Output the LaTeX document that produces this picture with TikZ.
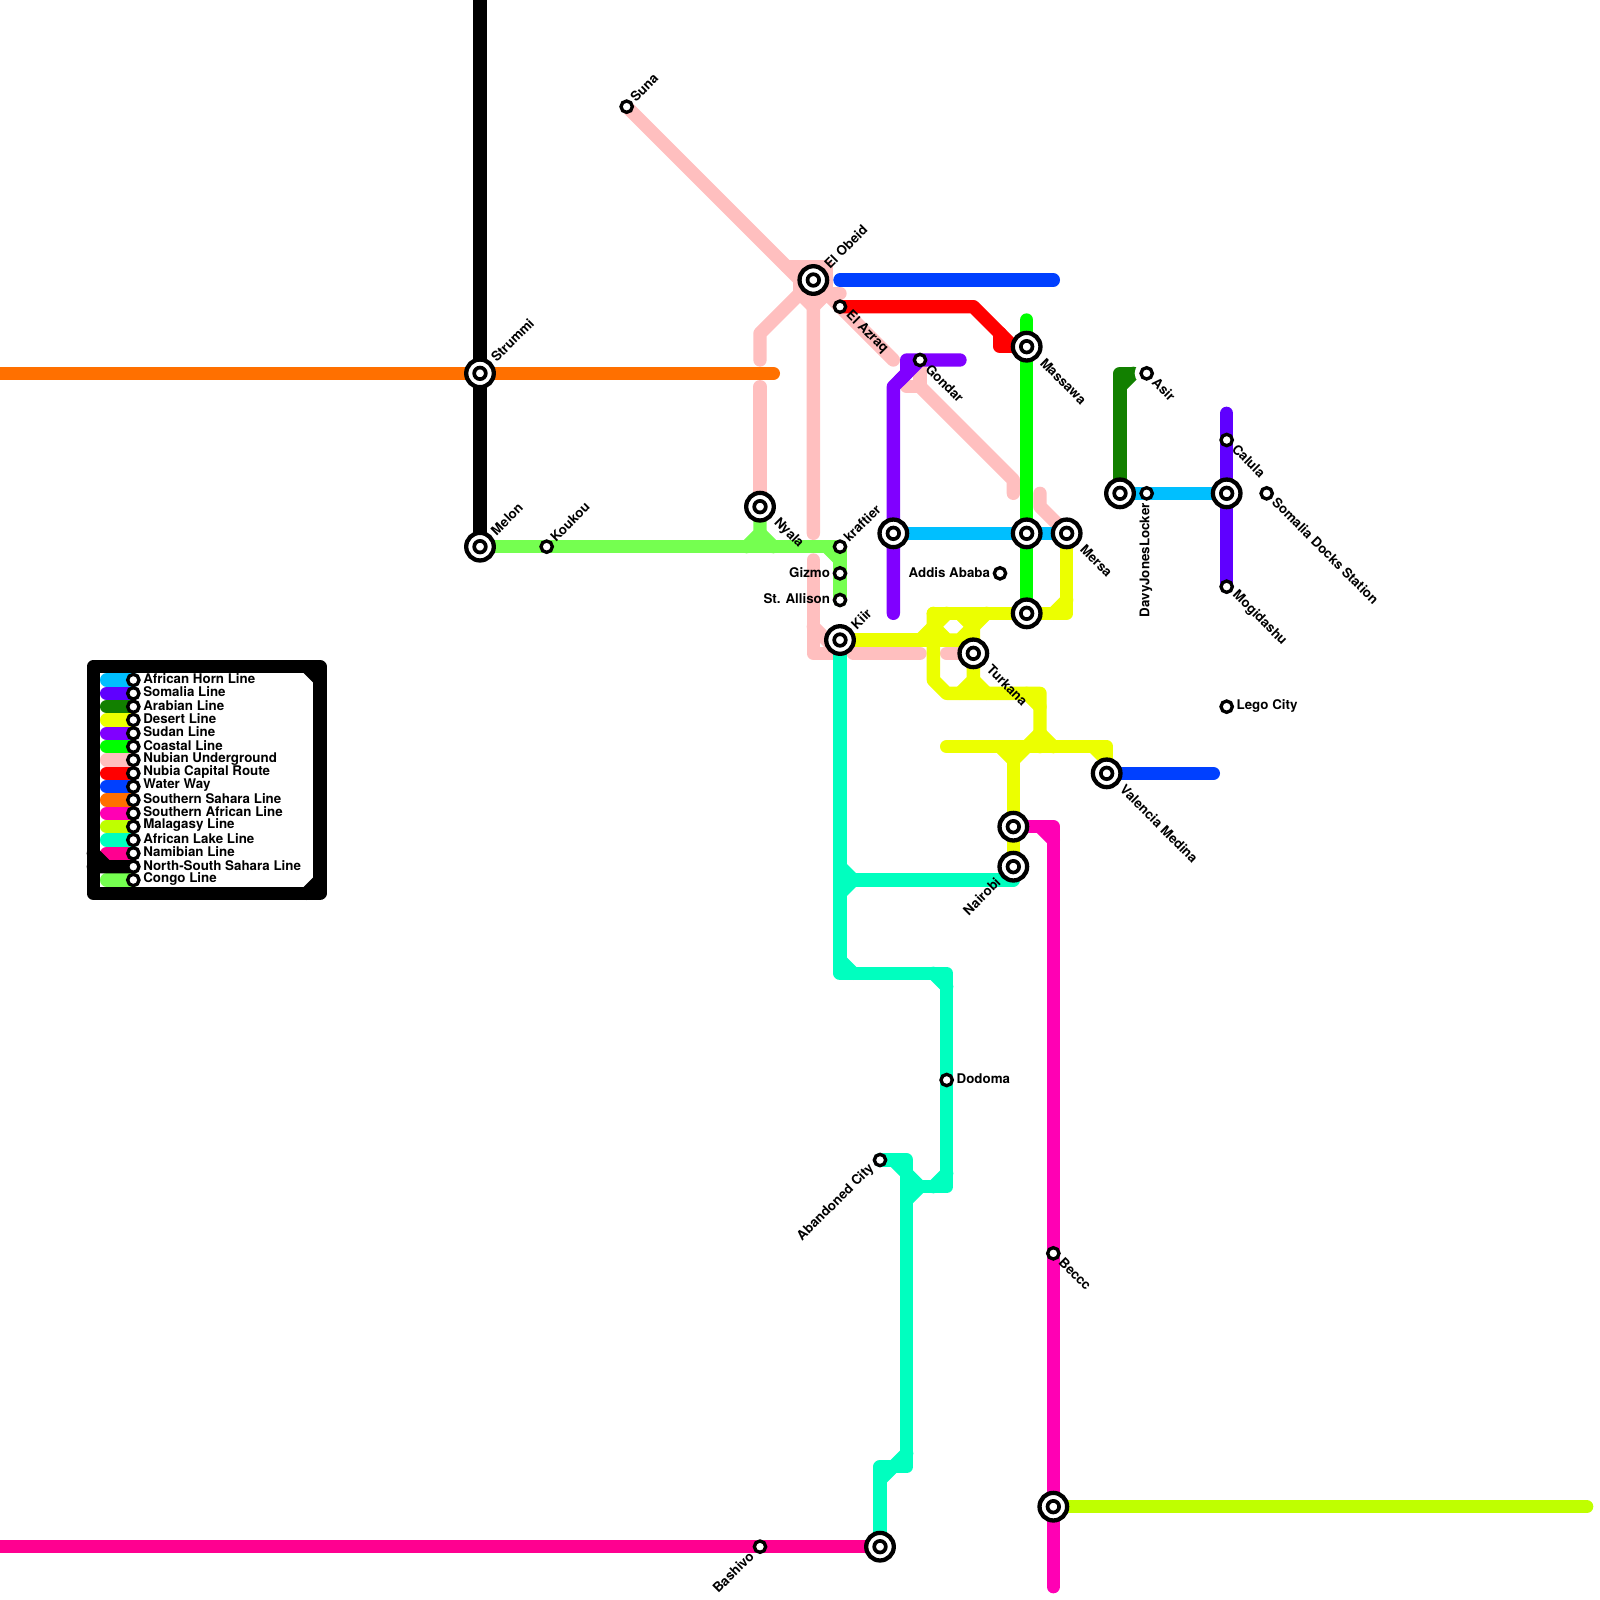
\documentclass[tikz,border=0pt]{standalone}
\usepackage{fontspec}
\setmainfont{TeX Gyre Heros}[BoldFont={TeX Gyre Heros Bold}]
\usetikzlibrary{calc}
\definecolor{chorn}{HTML}{00BFFF}
\definecolor{csomalia}{HTML}{5F00FF}
\definecolor{carabian}{HTML}{128000}
\definecolor{cdesert}{HTML}{ECFF00}
\definecolor{csudan}{HTML}{8000FF}
\definecolor{ccoast}{HTML}{00FF00}
\definecolor{cnubian}{HTML}{FFBFBF}
\definecolor{ccapital}{HTML}{FF0000}
\definecolor{cwater}{HTML}{0040FF}
\definecolor{csahara}{HTML}{FF7000}
\definecolor{csafrican}{HTML}{FF00B4}
\definecolor{cmalagasy}{HTML}{BFFF00}
\definecolor{clake}{HTML}{00FFBF}
\definecolor{cnamibian}{HTML}{FF0090}
\definecolor{ccongo}{HTML}{75FF50}
\tikzset{
  metro/.style={line width=6.667pt,line cap=round,line join=round},
  bigst/.style={circle,draw=black,fill=white,line width=2.15pt,minimum size=13.8pt,inner sep=0pt,outer sep=0pt,
    path picture={\draw[black,line width=1.85pt] (path picture bounding box.center) circle (2.9pt);}},
  smallst/.style={circle,draw=black,fill=white,line width=1.67pt,minimum size=5.67pt,inner sep=0pt,outer sep=0pt},
  lab/.style={font=\fontsize{6.67}{8}\selectfont\bfseries,inner sep=0pt,outer sep=0pt,text=black},
  lr/.style={lab,anchor=west},
  ll/.style={lab,anchor=east},
  lup/.style={lab,anchor=west,rotate=45},
  ldn/.style={lab,anchor=west,rotate=-45},
  lbk/.style={lab,anchor=east,rotate=45},
  lvt/.style={lab,anchor=east,rotate=90},
}
\begin{document}
\begin{tikzpicture}[x=6.6667pt,y=-6.6667pt]
\useasboundingbox (0,0) rectangle (120,120);
% station positions
\coordinate (suna) at (47,8);
\coordinate (elobeid) at (61,21);
\coordinate (elazraq) at (63,23);
\coordinate (gondar) at (69,27);
\coordinate (massawa) at (77,26);
\coordinate (asir) at (86,28);
\coordinate (strummi) at (36,28);
\coordinate (calula) at (92,33);
\coordinate (melon) at (36,41);
\coordinate (koukou) at (41,41);
\coordinate (nyala) at (57,38);
\coordinate (kraftier) at (63,41);
\coordinate (gizmo) at (63,43);
\coordinate (allison) at (63,45);
\coordinate (kiir) at (63,48);
\coordinate (sudanx) at (67,40);
\coordinate (coastx) at (77,40);
\coordinate (mersa) at (80,40);
\coordinate (addis) at (75,43);
\coordinate (coastb) at (77,46);
\coordinate (turkana) at (73,49);
\coordinate (davy) at (86,37);
\coordinate (arabx) at (84,37);
\coordinate (somx) at (92,37);
\coordinate (docks) at (95,37);
\coordinate (mogi) at (92,44);
\coordinate (lego) at (92,53);
\coordinate (valencia) at (83,58);
\coordinate (dodoma) at (71,81);
\coordinate (abandoned) at (66,87);
\coordinate (beccc) at (79,94);
\coordinate (malag) at (79,113);
\coordinate (bashivo) at (57,116);
\coordinate (lakeb) at (66,116);
\coordinate (safr) at (76,62);
\coordinate (nairobi) at (76,65);
\coordinate (nwend) at (36,-1);
\coordinate (sahw) at (-1,28);
\coordinate (sahe) at (58,28);
\coordinate (namw) at (-1,116);
\coordinate (male) at (119,113);
\coordinate (safe) at (79,119);

% Legend
\draw[metro,black] (7,50) rectangle (24,67);
\draw[metro,black] (23,50) -- (24,51) (24,66) -- (23,67);
\foreach \yy/\cc in {51/chorn,52/csomalia,53/carabian,54/cdesert,55/csudan,56/ccoast,57/cnubian,58/ccapital,59/cwater,60/csahara,61/csafrican,62/cmalagasy,63/clake,64/cnamibian,66/ccongo}{
  \draw[metro,\cc] (8,\yy) -- (10,\yy);
}
\draw[metro,black] (7,65) -- (10,65) (7,64) -- (8,65);
\foreach \yy in {51,...,66}{ \node[smallst] at (10,\yy) {}; }
\foreach \yy/\tx in {51/African Horn Line,52/Somalia Line,53/Arabian Line,54/Desert Line,55/Sudan Line,56/Coastal Line,57/Nubian Underground,58/Nubia Capital Route,59/Water Way,60/Southern Sahara Line,61/Southern African Line,62/Malagasy Line,63/African Lake Line,64/Namibian Line,65/North-South Sahara Line,66/Congo Line}{
  \node[lr] at (10.75,\yy-0.1) {\tx};
}

% Nubian Underground
\draw[metro,cnubian] (suna) -- (60,21) -- (elobeid);
\draw[metro,cnubian] (59,20) -- (62,20) -- (62,22) -- (63,22);
\draw[metro,cnubian] (60,20) -- (62,20) -- (62,22) -- (60,22) -- cycle;
\draw[metro,cnubian] (57,27) -- (57,25) -- (elobeid) -- (61,40);
\draw[metro,cnubian] (60,22) -- (61,23) -- (62,22) -- (elazraq) -- (67,27);
\draw[metro,cnubian] (nyala) -- (57,29);
\draw[metro,cnubian] (61,42) -- (61,49) -- (63,49);
\draw[metro,cnubian] (61,47) -- (63,49);
\draw[metro,cnubian] (64,49) -- (69,49);
\draw[metro,cnubian] (71,49) -- (turkana);
\draw[metro,cnubian] (gondar) -- (69,29) -- (68,29);
\draw[metro,cnubian] (69,29) -- (76,36) -- (76,37);
\draw[metro,cnubian] (78,37) -- (78,38) -- (mersa);

% North-South Sahara, Southern Sahara
\draw[metro,black] (nwend) -- (melon);
\draw[metro,csahara] (sahw) -- (sahe);

% Congo
\draw[metro,ccongo] (melon) -- (kraftier) -- (allison);
\draw[metro,ccongo] (62,41) -- (63,42);
\draw[metro,ccongo] (nyala) -- (57,40) -- (56,41);
\draw[metro,ccongo] (57,40) -- (58,41);

% Sudan
\draw[metro,csudan] (67,46) -- (sudanx) -- (67,29) -- (gondar) -- (72,27);
\draw[metro,csudan] (67.5,28.5) -- (68,28) -- (68,27) -- (gondar);

% Water Way
\draw[metro,cwater] (63,21) -- (79,21);
\draw[metro,cwater] (valencia) -- (91,58);

% Capital
\draw[metro,ccapital] (elazraq) -- (73,23) -- (76,26) -- (massawa);
\draw[metro,ccapital] (75,25) -- (75,26) -- (massawa);

% Coastal
\draw[metro,ccoast] (77,24) -- (coastb);

% African Horn
\draw[metro,chorn] (sudanx) -- (mersa);
\draw[metro,chorn] (arabx) -- (somx);

% Somalia
\draw[metro,csomalia] (92,31) -- (mogi);

% Arabian
\draw[metro,carabian] (arabx) -- (84,28) -- (85,28);
\draw[metro,carabian] (84,29) -- (85,28);
\fill[white] (asir) circle (6pt);

% Desert
\fill[cdesert] (70,46) rectangle (73,48);
\draw[metro,cdesert] (kiir) -- (turkana |- kiir);
\draw[metro,cdesert] (69,48) -- (71,46);
\draw[metro,cdesert] (70,46) -- (coastb) -- (80,46) -- (mersa);
\draw[metro,cdesert] (79,46) -- (80,45);
\draw[metro,cdesert] (70,46) -- (70,51) -- (71,52) -- (78,52) -- (78,56);
\draw[metro,cdesert] (77,52) -- (78,53);
\draw[metro,cdesert] (turkana) -- (73,47) -- (74,46);
\draw[metro,cdesert] (turkana) -- (73,51) -- (72,52);
\draw[metro,cdesert] (73,51) -- (74,52);
\draw[metro,cdesert] (71,56) -- (83,56) -- (valencia);
\draw[metro,cdesert] (82,56) -- (83,57);
\draw[metro,cdesert] (77,56) -- (78,55) -- (79,56);
\draw[metro,cdesert] (76,56) -- (nairobi);
\draw[metro,cdesert] (75,56) -- (76,57) -- (77,56);
\fill[white] (70.75,47) -- (71.25,46.5) -- (71.75,46.5) -- (72.25,47) -- (71.75,47.5) -- (71.25,47.5) -- cycle;

% African Lake
\draw[metro,clake] (kiir) -- (63,73) -- (71,73) -- (71,89) -- (68,89);
\draw[metro,clake] (63,66) -- (76,66) -- (nairobi);
\draw[metro,clake] (63,65) -- (64,66) -- (63,67);
\draw[metro,clake] (63,72) -- (64,73);
\draw[metro,clake] (70,73) -- (71,74);
\draw[metro,clake] (abandoned) -- (68,87) -- (68,110) -- (66,110) -- (lakeb);
\draw[metro,clake] (67,87) -- (68,88) -- (69,89) -- (68,90);
\draw[metro,clake] (71,88) -- (70,89);
\draw[metro,clake] (68,109) -- (66,111);

% Southern African, Namibian, Malagasy
\draw[metro,csafrican] (safr) -- (79,62) -- (safe);
\draw[metro,csafrican] (78,62) -- (79,63);
\draw[metro,cnamibian] (namw) -- (lakeb);
\draw[metro,cmalagasy] (malag) -- (male);

% Stations
\foreach \s in {strummi,melon,elobeid,massawa,nyala,kiir,sudanx,coastx,mersa,coastb,turkana,arabx,somx,valencia,safr,nairobi,malag,lakeb}{
  \node[bigst] (st\s) at (\s) {};
}
\foreach \s in {suna,elazraq,gondar,asir,calula,koukou,kraftier,gizmo,allison,addis,davy,docks,mogi,lego,dodoma,abandoned,beccc,bashivo}{
  \node[smallst] (st\s) at (\s) {};
}

% Labels
\node[lup] at ($(suna)+(0.45,-0.55)$) {Suna};
\node[lup] at ($(elobeid)+(1.0,-1.05)$) {El Obeid};
\node[lup] at ($(strummi)+(1.0,-1.05)$) {Strummi};
\node[lup] at ($(melon)+(1.0,-1.05)$) {Melon};
\node[lup] at ($(koukou)+(0.45,-0.55)$) {Koukou};
\node[lup] at ($(kraftier)+(0.45,-0.55)$) {kraftier};
\node[lup] at ($(kiir)+(1.0,-1.0)$) {Kiir};
\node[ldn] at ($(elazraq)+(0.6,0.5)$) {El Azraq};
\node[ldn] at ($(gondar)+(0.6,0.5)$) {Gondar};
\node[ldn] at ($(massawa)+(1.2,1.05)$) {Massawa};
\node[ldn] at ($(nyala)+(1.2,1.05)$) {Nyala};
\node[ldn] at ($(mersa)+(1.2,1.05)$) {Mersa};
\node[ldn] at ($(turkana)+(1.2,1.05)$) {Turkana};
\node[ldn] at ($(valencia)+(1.2,1.05)$) {Valencia Medina};
\node[ldn] at ($(asir)+(0.6,0.5)$) {Asir};
\node[ldn] at ($(calula)+(0.6,0.5)$) {Calula};
\node[ldn] at ($(docks)+(0.6,0.5)$) {Somalia Docks Station};
\node[ldn] at ($(mogi)+(0.6,0.5)$) {Mogidashu};
\node[ldn] at ($(beccc)+(0.6,0.5)$) {Beccc};
\node[lr] at ($(dodoma)+(0.75,-0.1)$) {Dodoma};
\node[lr] at ($(lego)+(0.75,-0.03)$) {Lego City};
\node[ll] at ($(gizmo)+(-0.75,-0.08)$) {Gizmo};
\node[ll] at ($(allison)+(-0.75,-0.08)$) {St. Allison};
\node[ll] at ($(addis)+(-0.75,-0.08)$) {Addis Ababa};
\node[lbk] at ($(nairobi)+(-1.15,1.0)$) {Nairobi};
\node[lbk] at ($(abandoned)+(-0.6,0.5)$) {Abandoned City};
\node[lbk] at ($(bashivo)+(-0.65,0.55)$) {Bashivo};
\node[lvt] at ($(davy)+(-0.05,0.75)$) {DavyJonesLocker};
\end{tikzpicture}
\end{document}
